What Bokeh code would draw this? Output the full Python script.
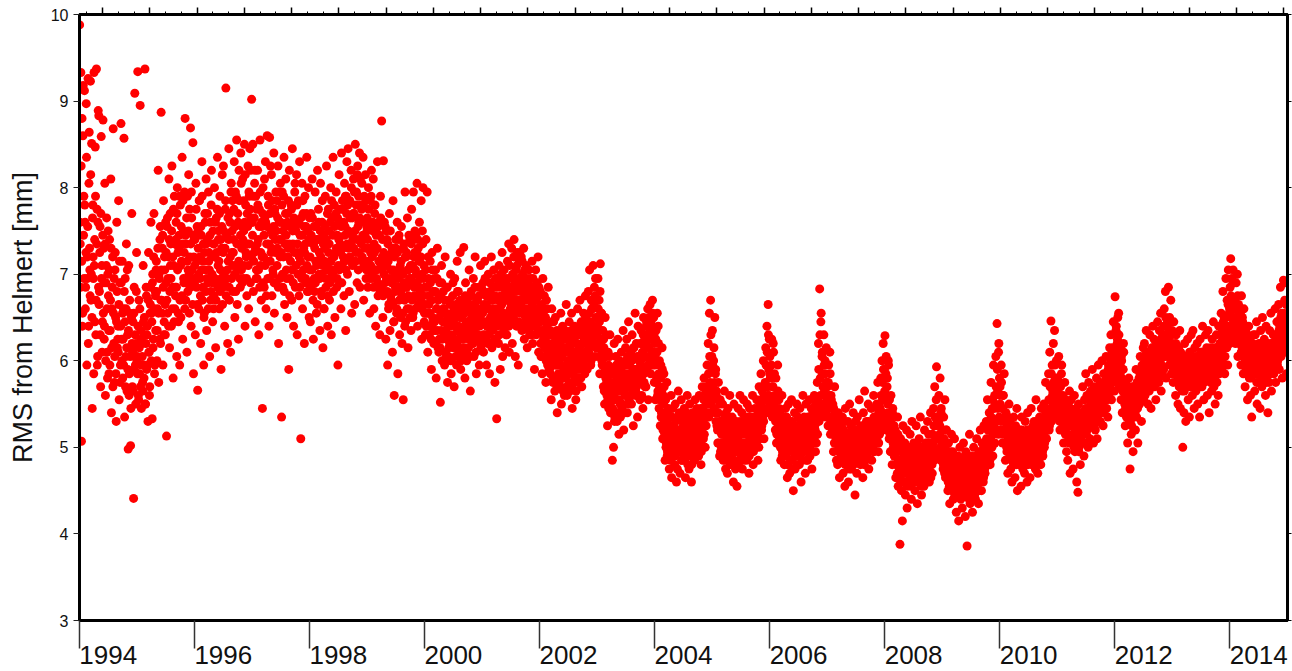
from bokeh.plotting import figure
from bokeh.models import (Range1d, LinearAxis, FixedTicker, CustomJSTickFormatter,
                          ColumnDataSource)
from bokeh.embed import file_html
from bokeh.resources import INLINE

# ---------------- data (RMS from Helmert [mm]) -------------
# two interleaved sample sets per year, 8 values per month each
years = list(range(1994, 2015))

rms_1994 = [9.88, 7.35, 9.33, 5.07, 8.80, 6.55, 9.18, 7.90, 9.12, 7.60, 6.85, 8.97, 5.95, 7.20, 9.26, 6.40,
            8.64, 7.05, 9.23, 6.70, 8.51, 5.45, 7.80, 6.95, 9.33, 7.40, 8.47, 6.30, 9.37, 7.75, 6.05, 8.89,
            8.83, 6.80, 7.55, 5.70, 8.59, 7.10, 6.45, 8.78, 7.30, 6.25, 8.05, 5.60, 6.90, 7.65, 6.10, 7.00,
            6.75, 5.85, 7.40, 6.35, 8.10, 5.40, 6.60, 7.20, 8.68, 6.20, 5.75, 7.05, 6.50, 5.30, 7.60, 6.15,
            6.40, 7.85, 5.55, 6.90, 5.95, 8.74, 6.25, 7.15, 5.80, 6.60, 8.57, 5.35, 6.95, 6.05, 7.35, 5.65,
            6.30, 4.98, 7.10, 5.85, 6.55, 5.02, 6.15, 7.70, 5.70, 6.45, 4.41, 6.85, 9.09, 5.95, 6.20, 7.25]
rms_1994b = [7.60, 6.85, 8.25, 7.15, 6.40, 8.60, 7.45, 6.95, 7.80, 6.60, 7.25, 8.35, 6.95, 7.55, 6.20, 8.05,
             7.30, 6.75, 8.15, 7.00, 6.50, 7.65, 7.20, 5.85, 7.10, 6.45, 7.90, 6.70, 7.35, 5.95, 7.60, 6.85,
             6.65, 7.25, 6.30, 7.70, 6.95, 6.10, 7.45, 6.55, 6.90, 6.40, 7.35, 6.00, 7.10, 6.60, 5.80, 7.50,
             6.35, 7.05, 5.95, 6.70, 7.30, 6.15, 6.85, 5.70, 6.55, 6.95, 6.05, 7.25, 5.85, 6.45, 6.80, 6.25,
             6.10, 6.65, 7.15, 5.75, 6.40, 6.90, 6.00, 6.55, 6.25, 5.95, 6.80, 6.45, 5.70, 6.60, 6.15, 7.05,
             5.90, 6.35, 5.60, 6.70, 6.05, 5.45, 6.50, 6.20, 6.10, 5.65, 6.55, 5.90, 6.30, 5.50, 6.80, 6.00]
rms_1995 = [6.05, 9.34, 5.60, 6.70, 5.85, 8.95, 6.35, 5.45, 6.20, 5.75, 7.10, 5.95, 6.50, 9.37, 5.50, 6.85,
            5.90, 6.40, 5.30, 7.25, 6.10, 5.70, 6.65, 7.60, 6.55, 5.33, 7.00, 6.25, 7.70, 5.85, 6.80, 6.35,
            7.15, 6.00, 6.60, 8.20, 5.75, 6.95, 7.40, 6.20, 8.87, 6.70, 7.30, 5.95, 7.85, 6.45, 7.05, 6.30,
            6.90, 5.13, 7.55, 6.55, 7.20, 8.10, 6.15, 7.70, 7.35, 6.40, 8.25, 6.85, 5.80, 7.10, 7.90, 6.60,
            6.75, 7.60, 6.05, 8.00, 7.25, 6.45, 7.45, 5.95, 7.80, 6.50, 7.15, 8.35, 6.25, 7.50, 6.90, 7.95,
            8.80, 6.70, 7.35, 6.10, 7.90, 7.05, 8.15, 6.55, 7.20, 8.69, 6.40, 7.65, 6.95, 8.52, 5.85, 7.40]
rms_1995b = [5.85, 6.40, 5.55, 6.15, 6.60, 5.70, 6.25, 5.95, 6.05, 5.65, 6.45, 5.80, 6.30, 5.50, 6.20, 6.75,
             6.30, 5.95, 6.70, 6.10, 5.60, 6.55, 6.85, 6.00, 6.45, 6.90, 6.15, 7.20, 6.60, 5.95, 6.75, 7.05,
             6.80, 6.35, 7.30, 6.55, 7.00, 6.25, 7.55, 6.70, 7.05, 6.55, 7.45, 6.85, 6.30, 7.20, 6.65, 7.60,
             7.25, 6.70, 7.65, 6.95, 6.40, 7.40, 6.80, 7.10, 6.95, 7.50, 6.60, 7.20, 7.75, 6.45, 7.35, 6.85,
             7.40, 6.85, 7.70, 7.05, 6.55, 7.30, 7.90, 6.70, 7.10, 7.55, 6.75, 7.35, 7.85, 6.95, 7.25, 6.60,
             7.45, 6.90, 7.65, 7.15, 6.80, 7.50, 7.00, 7.75, 6.85, 7.35, 7.95, 7.05, 6.65, 7.45, 7.20, 6.90]
rms_1996 = [7.10, 6.30, 8.05, 6.85, 7.55, 5.66, 7.30, 6.60, 7.85, 6.95, 6.20, 7.45, 8.30, 6.70, 7.15, 5.95,
            6.55, 7.70, 7.05, 8.10, 6.35, 7.40, 6.90, 7.95, 7.25, 6.05, 7.60, 6.80, 8.20, 7.00, 6.45, 7.35,
            6.75, 8.00, 7.20, 6.15, 7.65, 6.90, 8.35, 7.10, 7.50, 6.60, 7.90, 7.05, 5.90, 7.30, 8.15, 6.85,
            8.25, 7.00, 6.40, 7.75, 9.15, 6.95, 7.45, 6.20, 7.15, 8.45, 6.70, 7.60, 6.10, 8.05, 7.25, 7.85,
            6.80, 7.40, 8.30, 6.50, 7.95, 7.10, 8.55, 6.65, 7.70, 6.25, 8.20, 7.35, 6.85, 8.40, 7.05, 7.55,
            8.10, 6.95, 7.50, 8.50, 6.40, 7.80, 7.20, 6.75, 7.35, 8.25, 6.60, 7.90, 8.45, 6.90, 7.65, 9.02]
rms_1996b = [7.40, 6.95, 7.75, 7.15, 6.65, 7.50, 7.00, 7.85, 7.20, 6.75, 7.55, 7.05, 7.90, 6.85, 7.35, 6.50,
             7.25, 7.60, 6.80, 7.35, 6.95, 7.70, 6.60, 7.15, 7.05, 7.45, 6.70, 7.80, 7.20, 6.90, 7.50, 6.60,
             7.35, 6.95, 7.60, 6.70, 7.25, 7.75, 6.85, 7.40, 7.15, 7.70, 6.80, 7.40, 6.95, 7.55, 6.65, 7.25,
             7.50, 6.90, 7.30, 7.85, 6.75, 7.45, 7.05, 7.65, 7.40, 6.85, 7.70, 7.20, 7.95, 6.95, 7.50, 7.10,
             7.25, 7.75, 7.00, 7.55, 6.80, 7.90, 7.35, 7.05, 7.60, 7.15, 7.85, 6.95, 7.45, 8.05, 7.30, 6.90,
             7.40, 7.85, 7.10, 7.60, 8.15, 7.25, 6.95, 7.70, 7.55, 7.10, 7.95, 7.35, 7.75, 8.20, 7.20, 7.60]
rms_1997 = [7.60, 8.50, 6.80, 7.25, 8.05, 6.45, 7.90, 7.05, 6.95, 8.20, 7.40, 6.30, 7.75, 8.55, 7.10, 6.70,
            7.55, 5.45, 8.00, 7.20, 6.85, 7.65, 8.30, 6.60, 7.35, 8.60, 6.95, 7.80, 6.40, 8.58, 7.15, 7.50,
            8.15, 6.75, 7.45, 7.00, 8.40, 6.55, 7.70, 7.25, 6.90, 7.85, 7.30, 8.25, 6.20, 7.60, 6.95, 8.05,
            7.40, 5.35, 7.95, 6.85, 7.20, 8.35, 6.65, 7.55, 8.10, 7.05, 6.50, 7.70, 7.30, 5.90, 8.20, 6.95,
            7.15, 7.80, 6.70, 8.45, 7.35, 6.40, 7.60, 7.95, 6.85, 7.50, 8.15, 6.30, 7.25, 7.85, 6.75, 8.30,
            7.45, 5.10, 7.00, 8.05, 6.60, 7.70, 7.30, 6.20, 7.90, 6.95, 7.55, 8.35, 6.80, 7.20, 8.00, 6.50]
rms_1997b = [7.45, 7.90, 7.15, 7.65, 8.20, 7.30, 6.95, 7.75, 7.35, 7.80, 7.05, 7.55, 6.85, 7.95, 7.25, 7.60,
             7.20, 7.70, 6.90, 7.45, 8.10, 7.10, 7.60, 6.75, 7.55, 7.15, 7.90, 7.35, 6.95, 7.70, 8.25, 7.25,
             7.30, 7.85, 7.05, 7.55, 6.90, 7.75, 7.40, 7.95, 7.50, 7.10, 7.65, 6.85, 7.40, 7.95, 7.20, 7.60,
             7.25, 7.80, 7.00, 7.50, 7.90, 6.80, 7.35, 7.70, 7.45, 6.95, 7.60, 7.20, 7.85, 7.35, 6.75, 7.55,
             7.30, 7.75, 7.05, 7.50, 6.90, 7.65, 7.25, 8.05, 7.55, 7.10, 7.80, 7.35, 7.00, 7.60, 7.20, 6.85,
             7.15, 7.65, 6.95, 7.45, 7.85, 7.05, 7.55, 7.25, 7.35, 6.90, 7.70, 7.10, 7.50, 6.80, 7.40, 7.65]
rms_1998 = [7.05, 6.45, 7.70, 6.90, 8.10, 7.35, 6.25, 7.55, 6.80, 7.95, 7.15, 6.55, 7.40, 8.20, 6.95, 7.60,
            7.25, 6.35, 8.05, 7.00, 6.75, 7.85, 6.15, 7.45, 6.60, 7.30, 7.90, 6.85, 8.25, 7.10, 6.40, 7.75,
            7.50, 6.70, 7.15, 8.00, 6.30, 7.65, 7.05, 8.35, 6.95, 7.80, 6.50, 7.25, 7.95, 6.85, 7.45, 5.95,
            7.60, 8.15, 6.90, 7.35, 6.60, 8.40, 7.10, 7.75, 7.20, 6.75, 8.05, 7.55, 6.35, 7.90, 8.30, 7.00,
            8.45, 7.30, 6.80, 7.85, 7.15, 8.20, 6.55, 7.65, 7.40, 8.10, 7.70, 6.65, 8.50, 7.25, 7.95, 6.90,
            8.25, 7.05, 7.60, 8.40, 6.85, 7.80, 7.35, 8.05, 7.15, 8.35, 6.70, 7.90, 7.45, 8.15, 6.95, 7.55]
rms_1998b = [7.20, 6.85, 7.45, 7.05, 7.65, 6.70, 7.35, 6.95, 7.30, 6.90, 7.55, 7.10, 6.65, 7.40, 7.75, 7.00,
             6.95, 7.50, 7.20, 6.80, 7.60, 7.10, 7.35, 6.60, 7.15, 7.55, 6.95, 7.40, 7.05, 7.70, 6.75, 7.25,
             7.35, 6.90, 7.60, 7.15, 7.85, 7.00, 7.45, 6.80, 7.20, 7.55, 7.05, 7.70, 7.30, 6.95, 7.65, 7.10,
             7.40, 7.05, 7.75, 7.25, 7.55, 6.90, 7.85, 7.30, 7.60, 7.15, 7.45, 7.90, 7.05, 7.70, 7.35, 7.80,
             7.50, 7.85, 7.20, 7.65, 7.35, 8.00, 7.45, 7.10, 7.70, 7.30, 7.95, 7.50, 7.15, 7.80, 7.40, 8.15,
             7.55, 7.90, 7.25, 7.65, 8.10, 7.40, 7.75, 7.20, 7.45, 7.80, 7.10, 7.60, 7.30, 7.85, 7.05, 7.50]
rms_1999 = [7.65, 6.85, 8.00, 7.30, 6.55, 7.85, 7.10, 8.20, 6.95, 7.50, 8.10, 6.60, 7.25, 7.80, 6.40, 7.45,
            7.05, 8.30, 6.75, 7.60, 7.15, 6.30, 7.90, 6.85, 8.77, 7.20, 6.50, 8.31, 7.00, 6.80, 7.55, 6.25,
            6.95, 7.40, 5.95, 7.15, 6.65, 7.70, 6.35, 7.05, 6.70, 7.25, 6.10, 7.85, 6.45, 5.60, 7.00, 6.85,
            7.30, 6.55, 7.60, 5.85, 6.95, 7.45, 6.30, 7.10, 6.80, 7.55, 6.20, 7.00, 5.55, 7.35, 6.70, 7.95,
            6.45, 7.20, 6.85, 7.65, 6.15, 7.05, 6.60, 7.40, 7.10, 6.35, 7.75, 6.90, 6.50, 7.95, 6.75, 7.25,
            6.60, 7.45, 7.00, 8.05, 6.40, 7.30, 6.85, 7.60, 7.15, 6.70, 7.85, 6.25, 7.50, 8.00, 6.95, 6.45]
rms_1999b = [7.40, 7.15, 7.75, 6.95, 7.55, 7.25, 7.90, 7.00, 7.20, 7.60, 6.85, 7.35, 7.70, 7.05, 7.50, 6.95,
             7.30, 6.90, 7.55, 7.15, 7.45, 6.80, 7.65, 7.10, 7.05, 7.40, 6.75, 7.25, 7.60, 6.90, 7.15, 7.50,
             7.10, 6.80, 7.35, 6.60, 7.20, 6.95, 7.50, 6.75, 6.90, 7.30, 6.65, 7.05, 6.45, 7.20, 6.80, 7.40,
             6.95, 6.60, 7.25, 6.85, 7.40, 6.70, 7.05, 6.50, 7.15, 6.75, 7.00, 6.55, 7.30, 6.90, 6.40, 7.20,
             6.85, 7.25, 6.60, 7.05, 6.75, 7.45, 6.95, 6.50, 6.95, 7.35, 6.70, 7.10, 6.55, 7.20, 6.85, 7.50,
             7.05, 6.75, 7.25, 6.90, 7.40, 6.65, 7.15, 6.95, 6.80, 7.20, 6.60, 7.00, 7.35, 6.75, 7.10, 6.55]
rms_2000 = [6.85, 6.30, 7.40, 6.55, 7.95, 6.10, 6.95, 6.65, 6.40, 7.15, 6.70, 5.90, 7.25, 6.50, 6.80, 6.20,
            6.95, 6.35, 7.05, 5.80, 6.60, 7.30, 6.15, 6.75, 6.25, 6.90, 5.52, 6.55, 7.10, 6.00, 6.45, 6.80,
            6.60, 5.95, 7.20, 6.35, 6.05, 6.85, 5.75, 6.50, 6.15, 6.70, 6.40, 7.00, 5.85, 6.55, 6.25, 6.90,
            6.45, 5.70, 6.95, 6.20, 6.65, 5.95, 7.15, 6.35, 6.80, 6.10, 6.50, 7.25, 5.90, 6.60, 6.30, 6.05,
            6.25, 7.31, 6.55, 5.80, 6.90, 6.40, 6.00, 6.70, 6.60, 6.15, 7.05, 6.35, 5.65, 6.75, 6.50, 6.20,
            6.40, 6.95, 6.05, 6.65, 7.20, 6.25, 5.85, 6.55, 6.70, 6.30, 6.85, 5.95, 6.50, 7.10, 6.20, 6.60]
rms_2000b = [6.65, 7.05, 6.40, 6.85, 6.55, 7.20, 6.75, 6.30, 6.55, 6.90, 6.25, 6.70, 7.05, 6.45, 6.80, 6.35,
             6.45, 6.80, 6.20, 6.60, 6.95, 6.35, 6.70, 6.10, 6.50, 6.15, 6.75, 6.35, 6.90, 6.25, 6.60, 6.00,
             6.30, 6.70, 6.10, 6.55, 6.25, 6.85, 6.40, 6.05, 6.45, 6.20, 6.65, 6.00, 6.50, 6.30, 6.75, 6.15,
             6.25, 6.60, 6.40, 6.05, 6.55, 6.20, 6.80, 6.35, 6.40, 6.15, 6.70, 6.30, 6.00, 6.50, 6.25, 6.65,
             6.35, 6.55, 6.15, 6.75, 6.45, 6.10, 6.60, 6.30, 6.45, 6.25, 6.65, 6.05, 6.40, 6.80, 6.30, 6.55,
             6.20, 6.60, 6.35, 6.85, 6.45, 6.10, 6.70, 6.40, 6.50, 6.25, 6.75, 6.40, 6.60, 6.15, 6.85, 6.45]
rms_2001 = [6.45, 6.90, 6.10, 6.65, 7.15, 6.30, 6.75, 5.95, 6.60, 6.20, 7.00, 6.45, 5.85, 6.80, 6.35, 7.20,
            6.15, 6.70, 6.40, 7.05, 6.55, 5.75, 6.95, 6.25, 5.33, 6.60, 6.85, 6.20, 7.10, 6.45, 5.90, 6.75,
            6.50, 7.25, 6.05, 6.70, 6.35, 6.95, 6.15, 6.80, 6.90, 6.30, 7.15, 6.55, 7.35, 6.10, 6.75, 6.45,
            6.65, 7.30, 6.20, 6.95, 6.50, 7.40, 6.85, 6.05, 7.05, 6.40, 7.25, 6.70, 5.95, 6.90, 7.15, 6.55,
            6.80, 7.20, 6.35, 7.00, 6.60, 7.30, 6.25, 6.95, 6.50, 7.10, 6.75, 6.15, 6.90, 6.45, 7.05, 6.30,
            6.95, 6.40, 6.70, 7.15, 6.20, 6.85, 6.55, 5.90, 6.60, 7.05, 6.30, 6.80, 6.45, 7.20, 6.10, 6.75]
rms_2001b = [6.55, 6.30, 6.80, 6.45, 6.95, 6.25, 6.65, 6.40, 6.45, 6.75, 6.30, 6.60, 6.90, 6.50, 6.20, 6.70,
             6.55, 6.35, 6.85, 6.60, 6.25, 6.75, 6.45, 6.95, 6.40, 6.70, 6.50, 6.90, 6.30, 6.60, 7.00, 6.45,
             6.65, 6.40, 6.85, 6.55, 7.05, 6.45, 6.75, 6.30, 6.70, 6.95, 6.50, 6.80, 6.40, 7.10, 6.60, 6.85,
             6.75, 6.50, 7.00, 6.65, 7.20, 6.55, 6.90, 6.70, 6.80, 7.10, 6.60, 6.95, 6.45, 6.85, 7.25, 6.70,
             6.65, 6.90, 7.15, 6.55, 6.85, 6.40, 7.05, 6.75, 6.70, 6.45, 6.95, 6.60, 6.85, 6.35, 6.80, 6.55,
             6.60, 6.80, 6.30, 6.65, 6.95, 6.50, 6.75, 6.40, 6.45, 6.70, 6.55, 6.90, 6.35, 6.60, 6.85, 6.50]
rms_2002 = [6.35, 6.80, 6.05, 6.55, 5.85, 6.95, 6.25, 6.60, 6.15, 6.45, 5.75, 6.70, 6.30, 5.95, 6.85, 6.20,
            5.90, 6.35, 6.05, 5.55, 6.60, 6.10, 5.80, 6.45, 6.20, 5.65, 6.50, 5.95, 6.15, 5.40, 6.30, 5.85,
            5.75, 6.25, 5.95, 6.55, 5.50, 6.05, 6.40, 5.80, 6.10, 5.60, 6.35, 5.90, 6.65, 5.70, 6.00, 6.30,
            5.85, 6.45, 5.65, 6.15, 5.95, 6.55, 5.45, 6.25, 6.05, 5.75, 6.40, 6.00, 5.55, 6.30, 5.90, 6.60,
            6.35, 5.80, 6.15, 6.70, 5.95, 6.45, 5.70, 6.20, 6.00, 6.55, 6.25, 5.85, 6.75, 6.10, 6.40, 5.90,
            6.45, 6.80, 6.15, 7.05, 6.35, 5.95, 6.70, 6.25, 6.60, 7.10, 6.30, 6.85, 6.05, 6.95, 6.50, 6.20]
rms_2002b = [6.45, 6.20, 6.65, 6.35, 6.05, 6.55, 6.30, 6.75, 6.25, 6.50, 6.00, 6.40, 6.60, 6.10, 6.35, 5.90,
             6.15, 5.85, 6.30, 6.00, 6.45, 5.75, 6.20, 5.95, 6.05, 5.80, 6.25, 5.95, 6.35, 5.70, 6.10, 6.00,
             5.95, 6.20, 5.70, 6.05, 5.85, 6.30, 5.65, 6.15, 5.90, 6.15, 5.80, 6.25, 5.95, 5.60, 6.10, 5.85,
             6.00, 5.75, 6.20, 5.90, 6.35, 5.70, 6.05, 5.85, 5.95, 6.25, 5.80, 6.10, 5.65, 6.20, 6.00, 5.75,
             6.10, 5.90, 6.30, 6.05, 5.80, 6.40, 5.95, 6.20, 6.20, 5.95, 6.35, 6.10, 6.50, 5.90, 6.25, 6.05,
             6.30, 6.10, 6.55, 6.20, 6.45, 6.00, 6.60, 6.35, 6.40, 6.20, 6.65, 6.35, 6.75, 6.15, 6.50, 6.30]
rms_2003 = [6.40, 6.95, 6.05, 6.70, 5.85, 7.12, 6.25, 6.55, 5.95, 6.35, 5.70, 6.15, 5.50, 6.50, 5.80, 6.05,
            5.60, 5.25, 6.10, 5.45, 5.85, 6.30, 5.40, 5.75, 5.55, 4.85, 5.90, 5.00, 6.20, 5.35, 5.70, 6.05,
            5.80, 5.30, 6.25, 5.65, 5.15, 6.00, 5.50, 5.90, 6.10, 5.45, 5.75, 6.35, 5.20, 5.95, 5.60, 6.15,
            5.70, 6.25, 5.40, 5.95, 6.45, 5.55, 6.05, 5.85, 6.00, 5.50, 6.30, 5.75, 5.25, 6.15, 5.90, 6.55,
            5.65, 6.20, 5.85, 5.35, 6.40, 5.80, 6.05, 5.55, 5.95, 6.35, 5.60, 6.10, 5.45, 6.50, 5.75, 6.25,
            6.15, 5.70, 6.45, 5.90, 6.60, 5.55, 6.30, 6.00, 6.65, 5.85, 6.40, 6.10, 6.70, 5.95, 6.50, 5.75]
rms_2003b = [6.35, 6.60, 6.15, 6.45, 6.80, 6.20, 6.55, 6.00, 6.10, 5.85, 6.25, 5.65, 6.05, 5.90, 6.30, 5.75,
             5.80, 5.55, 5.95, 5.70, 6.05, 5.50, 5.85, 5.65, 5.70, 5.45, 5.85, 5.60, 5.30, 5.75, 5.55, 5.95,
             5.65, 5.90, 5.40, 5.75, 5.55, 5.85, 5.35, 5.70, 5.75, 5.50, 5.95, 5.65, 5.85, 5.40, 5.80, 6.00,
             5.85, 5.60, 6.05, 5.75, 5.50, 5.95, 5.70, 6.10, 5.80, 6.00, 5.65, 5.90, 6.15, 5.70, 5.85, 5.60,
             5.90, 5.70, 6.05, 5.80, 5.60, 6.00, 5.75, 6.20, 6.00, 5.80, 6.20, 5.90, 6.30, 5.85, 6.05, 5.70,
             6.20, 6.40, 6.05, 6.30, 5.95, 6.50, 6.15, 6.35, 6.25, 6.45, 6.00, 6.35, 6.55, 6.10, 6.30, 6.20]
rms_2004 = [6.05, 5.55, 6.35, 5.80, 6.55, 5.65, 6.20, 5.45, 5.70, 5.25, 5.95, 5.40, 6.15, 5.10, 5.60, 5.85,
            5.30, 4.85, 5.55, 5.05, 5.75, 4.95, 5.40, 5.20, 4.75, 5.35, 5.00, 5.60, 4.65, 5.15, 5.45, 4.90,
            5.25, 4.80, 5.50, 5.10, 4.60, 5.35, 4.95, 5.65, 5.05, 5.40, 4.70, 5.20, 5.55, 4.85, 5.30, 5.00,
            4.90, 5.45, 5.15, 4.65, 5.35, 5.05, 5.60, 4.80, 5.20, 4.75, 5.50, 5.00, 5.30, 4.60, 5.10, 5.40,
            5.00, 5.35, 4.85, 5.55, 5.15, 4.95, 5.45, 5.10, 5.25, 4.90, 5.60, 5.05, 5.40, 4.80, 5.30, 5.70,
            5.45, 5.10, 5.80, 5.25, 5.00, 5.65, 5.35, 5.95, 5.60, 6.20, 5.35, 6.55, 5.75, 6.70, 5.50, 6.05]
rms_2004b = [5.95, 6.25, 5.75, 6.10, 5.60, 6.40, 5.85, 6.00, 5.55, 5.80, 5.35, 5.65, 5.90, 5.20, 5.50, 5.70,
             5.15, 5.40, 5.00, 5.30, 4.90, 5.25, 5.45, 5.10, 5.05, 5.25, 4.85, 5.15, 5.35, 4.95, 5.20, 5.05,
             5.10, 4.90, 5.30, 5.00, 5.20, 4.75, 5.15, 5.35, 4.95, 5.20, 5.05, 5.35, 4.85, 5.15, 5.00, 5.25,
             5.10, 4.85, 5.25, 5.00, 5.40, 4.95, 5.20, 5.05, 5.00, 5.25, 4.90, 5.15, 5.30, 4.80, 5.20, 5.05,
             5.15, 4.95, 5.30, 5.05, 5.25, 4.90, 5.35, 5.10, 5.10, 5.35, 5.00, 5.20, 5.45, 4.95, 5.25, 5.15,
             5.30, 5.55, 5.15, 5.40, 5.70, 5.25, 5.50, 5.35, 5.50, 5.85, 5.40, 6.05, 5.65, 6.30, 5.55, 5.90]
rms_2005 = [6.35, 5.70, 6.00, 5.45, 6.50, 5.85, 5.30, 5.65, 5.40, 5.05, 5.75, 5.20, 4.90, 5.55, 5.30, 5.00,
            5.15, 5.50, 4.85, 5.30, 5.65, 5.00, 4.75, 5.40, 5.25, 4.70, 5.45, 5.10, 4.95, 5.60, 5.20, 4.85,
            4.90, 5.35, 5.05, 4.60, 5.50, 5.15, 4.80, 5.25, 5.30, 4.55, 5.10, 5.45, 4.85, 5.00, 5.60, 4.95,
            5.05, 5.40, 4.75, 5.25, 5.55, 4.90, 5.15, 5.35, 5.20, 4.85, 5.50, 5.00, 5.30, 4.70, 5.45, 5.10,
            4.95, 5.35, 5.15, 5.60, 4.80, 5.25, 5.05, 5.45, 5.30, 5.00, 5.55, 5.15, 4.85, 5.40, 5.70, 5.10,
            5.50, 5.85, 5.20, 5.65, 5.35, 6.00, 5.10, 5.45, 5.75, 6.15, 5.40, 6.40, 5.60, 6.65, 5.90, 6.25]
rms_2005b = [5.95, 5.55, 6.15, 5.75, 5.40, 5.90, 5.60, 5.25, 5.20, 5.40, 5.05, 5.30, 5.50, 4.95, 5.25, 5.15,
             5.05, 5.25, 4.95, 5.15, 5.35, 4.85, 5.20, 5.00, 5.10, 4.90, 5.30, 5.00, 5.20, 4.80, 5.05, 5.25,
             5.00, 5.15, 4.85, 5.25, 4.95, 5.10, 4.75, 5.20, 4.95, 5.20, 5.05, 4.80, 5.15, 5.00, 5.30, 4.90,
             5.15, 4.95, 5.25, 5.05, 4.85, 5.20, 5.00, 5.30, 5.05, 5.25, 4.95, 5.15, 5.35, 4.90, 5.10, 5.20,
             5.10, 5.30, 5.00, 5.20, 4.95, 5.35, 5.15, 5.05, 5.20, 5.05, 5.35, 5.15, 5.45, 5.00, 5.25, 5.40,
             5.35, 5.55, 5.25, 5.45, 5.70, 5.30, 5.60, 5.40, 5.55, 5.95, 5.45, 6.10, 5.70, 6.30, 5.60, 5.85]
rms_2006 = [6.05, 5.50, 5.85, 6.25, 5.35, 5.70, 6.10, 5.45, 5.60, 5.20, 5.80, 5.05, 5.45, 5.95, 5.25, 5.55,
            5.10, 5.40, 4.85, 5.25, 5.60, 4.95, 5.30, 5.05, 4.80, 5.20, 5.45, 4.95, 5.35, 4.65, 5.10, 5.50,
            5.15, 4.70, 5.30, 5.00, 5.55, 4.85, 5.25, 4.50, 5.00, 5.40, 4.75, 5.20, 4.90, 5.50, 5.05, 5.35,
            5.25, 4.80, 5.45, 5.10, 4.60, 5.30, 5.00, 5.60, 4.95, 5.35, 5.15, 4.70, 5.50, 5.05, 5.25, 4.85,
            5.20, 5.00, 5.55, 4.90, 5.30, 5.45, 4.75, 5.15, 5.35, 5.05, 5.60, 5.25, 4.95, 5.50, 5.15, 5.75,
            5.55, 6.20, 5.30, 6.83, 5.80, 6.45, 5.40, 6.05, 5.85, 5.50, 6.30, 5.65, 6.00, 5.35, 6.15, 5.75]
rms_2006b = [5.80, 5.55, 5.95, 5.40, 5.70, 6.20, 5.50, 5.85, 5.40, 5.30, 5.55, 5.15, 5.35, 5.65, 5.20, 5.45,
             5.20, 5.00, 5.30, 5.10, 4.90, 5.25, 5.05, 5.35, 5.05, 5.15, 4.90, 5.25, 5.00, 4.80, 5.20, 5.10,
             5.00, 5.20, 4.85, 5.10, 4.95, 5.30, 4.75, 5.05, 5.10, 4.90, 5.25, 5.00, 4.80, 5.15, 5.05, 4.95,
             5.05, 5.20, 4.90, 5.10, 5.30, 4.85, 5.15, 5.00, 5.15, 4.95, 5.25, 5.05, 4.85, 5.20, 5.00, 5.35,
             5.10, 5.30, 5.00, 5.20, 4.95, 5.25, 5.05, 5.40, 5.25, 5.10, 5.40, 5.20, 5.50, 5.05, 5.35, 5.15,
             5.45, 5.90, 5.35, 6.30, 5.60, 6.55, 5.50, 6.10, 5.70, 5.45, 5.95, 5.60, 5.85, 5.40, 5.75, 5.55]
rms_2007 = [5.70, 5.25, 5.95, 5.45, 6.10, 5.15, 5.60, 5.35, 5.20, 5.50, 4.95, 5.35, 5.70, 5.05, 5.25, 4.85,
            5.10, 4.80, 5.40, 5.00, 4.65, 5.30, 5.15, 4.90, 4.95, 5.35, 4.70, 5.20, 5.00, 4.55, 5.45, 5.05,
            5.15, 4.85, 5.30, 4.60, 5.05, 5.50, 4.90, 5.25, 4.75, 5.20, 5.00, 5.40, 4.85, 5.10, 4.45, 5.30,
            5.05, 4.70, 5.35, 5.15, 4.90, 5.55, 5.00, 4.80, 5.25, 4.95, 5.10, 4.65, 5.40, 5.05, 5.65, 4.85,
            4.90, 5.30, 5.15, 5.00, 5.50, 4.75, 5.20, 5.05, 5.10, 5.45, 4.85, 5.30, 5.00, 5.60, 4.95, 5.25,
            5.35, 5.05, 5.50, 5.20, 5.75, 4.95, 5.40, 5.15, 5.45, 5.80, 5.25, 6.00, 5.55, 6.20, 5.30, 5.90]
rms_2007b = [5.50, 5.75, 5.35, 5.60, 5.85, 5.30, 5.55, 5.45, 5.30, 5.15, 5.45, 5.05, 5.25, 5.40, 5.10, 5.35,
             5.05, 5.20, 4.95, 5.15, 4.85, 5.10, 5.00, 5.25, 5.00, 4.85, 5.15, 4.95, 5.10, 4.80, 5.05, 4.90,
             4.95, 5.10, 4.85, 5.05, 4.75, 5.00, 5.15, 4.90, 5.00, 4.90, 5.10, 4.80, 5.05, 4.95, 5.20, 4.85,
             4.95, 5.10, 4.85, 5.05, 5.20, 4.90, 5.00, 5.15, 5.05, 4.90, 5.20, 4.95, 5.10, 4.80, 5.00, 5.25,
             5.00, 5.15, 4.90, 5.10, 5.30, 4.95, 5.05, 5.20, 5.15, 5.00, 5.25, 5.10, 4.95, 5.35, 5.05, 5.20,
             5.20, 5.35, 5.10, 5.45, 5.25, 5.05, 5.50, 5.30, 5.35, 5.60, 5.20, 5.75, 5.40, 5.90, 5.30, 5.65]
rms_2008 = [6.29, 5.55, 6.05, 5.20, 5.80, 5.40, 5.95, 5.10, 5.35, 4.95, 5.60, 5.15, 4.80, 5.45, 5.00, 5.25,
            4.90, 5.20, 4.65, 5.05, 4.80, 5.35, 4.55, 5.00, 4.75, 3.88, 5.10, 4.60, 4.95, 4.15, 5.25, 4.85,
            4.70, 5.05, 4.45, 4.90, 5.20, 4.30, 4.80, 5.00, 4.95, 4.60, 5.15, 4.75, 4.40, 5.30, 4.85, 4.65,
            5.05, 4.70, 4.50, 4.95, 5.25, 4.80, 4.35, 4.90, 4.85, 5.10, 4.60, 5.35, 4.75, 4.45, 5.00, 4.70,
            4.95, 4.55, 5.20, 4.80, 5.05, 4.65, 4.90, 5.30, 4.75, 5.15, 4.60, 4.95, 5.40, 4.80, 5.05, 4.70,
            5.00, 5.45, 4.85, 5.70, 4.95, 5.25, 5.93, 5.10, 5.35, 4.90, 5.60, 5.15, 5.80, 4.85, 5.45, 5.05]
rms_2008b = [5.60, 5.85, 5.35, 5.70, 5.50, 6.00, 5.25, 5.55, 5.15, 5.30, 4.95, 5.20, 5.40, 5.05, 5.25, 4.90,
             4.95, 5.10, 4.80, 5.00, 4.70, 5.15, 4.85, 5.05, 4.85, 4.65, 4.95, 4.50, 4.80, 5.00, 4.60, 4.90,
             4.80, 4.60, 4.95, 4.70, 4.85, 4.55, 5.00, 4.75, 4.85, 4.65, 4.90, 4.55, 4.80, 5.00, 4.70, 4.95,
             4.80, 4.95, 4.65, 4.85, 4.60, 5.05, 4.75, 4.90, 4.90, 4.70, 5.00, 4.80, 4.55, 4.95, 4.85, 4.65,
             4.85, 5.00, 4.70, 4.95, 4.60, 4.90, 5.05, 4.75, 4.90, 4.70, 5.05, 4.85, 4.65, 5.00, 4.80, 5.15,
             5.05, 5.25, 4.90, 5.35, 5.10, 5.55, 4.95, 5.30, 5.10, 5.30, 4.95, 5.25, 5.00, 5.40, 4.85, 5.20]
rms_2009 = [5.10, 4.75, 5.35, 4.90, 5.55, 4.65, 5.20, 4.85, 4.80, 4.50, 5.05, 4.65, 4.35, 4.95, 4.70, 5.15,
            4.60, 4.95, 4.40, 4.75, 5.10, 4.55, 4.85, 4.25, 4.70, 4.45, 4.90, 4.15, 4.80, 5.00, 4.55, 4.65,
            4.85, 4.30, 4.60, 5.05, 4.50, 4.75, 4.20, 4.95, 4.55, 3.86, 4.80, 4.45, 4.65, 5.15, 4.35, 4.70,
            4.90, 4.60, 4.25, 4.75, 5.00, 4.50, 4.85, 4.40, 4.65, 5.10, 4.55, 4.80, 4.35, 4.95, 4.70, 5.20,
            4.75, 4.50, 5.05, 4.85, 4.60, 5.25, 4.90, 4.70, 5.00, 5.30, 4.80, 5.55, 5.10, 4.95, 5.40, 4.85,
            5.20, 5.75, 5.05, 5.45, 4.90, 5.95, 5.25, 5.60, 5.50, 6.05, 5.30, 6.43, 5.65, 5.15, 6.20, 5.80]
rms_2009b = [4.95, 4.80, 5.10, 4.70, 5.00, 4.85, 5.20, 4.75, 4.75, 4.60, 4.85, 4.55, 4.90, 4.70, 4.80, 4.50,
             4.70, 4.55, 4.85, 4.65, 4.45, 4.80, 4.60, 4.75, 4.65, 4.80, 4.50, 4.70, 4.60, 4.85, 4.40, 4.75,
             4.70, 4.55, 4.80, 4.45, 4.65, 4.90, 4.60, 4.50, 4.60, 4.75, 4.50, 4.70, 4.40, 4.65, 4.85, 4.55,
             4.70, 4.55, 4.80, 4.60, 4.75, 4.45, 4.65, 4.90, 4.75, 4.60, 4.85, 4.70, 4.50, 4.80, 4.65, 4.95,
             4.80, 4.95, 4.70, 4.90, 4.65, 5.00, 4.75, 4.85, 4.95, 5.10, 4.85, 5.20, 4.90, 5.25, 5.05, 4.80,
             5.10, 5.35, 5.00, 5.55, 5.15, 5.30, 5.45, 5.05, 5.30, 5.70, 5.20, 5.90, 5.45, 6.10, 5.35, 5.60]
rms_2010 = [5.70, 5.20, 5.95, 5.45, 5.05, 5.60, 5.30, 5.85, 5.15, 4.85, 5.40, 5.00, 5.25, 4.70, 5.10, 5.50,
            4.95, 5.30, 4.75, 5.10, 4.60, 5.20, 4.90, 5.35, 5.05, 4.65, 5.25, 4.85, 5.45, 4.50, 5.00, 5.15,
            4.80, 5.20, 4.95, 4.55, 5.35, 5.05, 4.75, 5.10, 5.00, 4.70, 5.30, 4.90, 5.15, 4.60, 5.40, 4.85,
            5.20, 4.95, 4.65, 5.10, 5.45, 4.80, 5.00, 5.25, 4.90, 5.30, 5.05, 4.75, 5.55, 4.95, 5.15, 4.70,
            5.10, 4.85, 5.35, 5.00, 4.80, 5.45, 5.20, 4.95, 5.25, 5.50, 5.00, 5.35, 5.75, 5.10, 5.45, 5.20,
            5.40, 5.85, 5.20, 6.10, 5.55, 6.46, 5.30, 5.95, 5.65, 6.20, 5.45, 6.35, 5.80, 5.35, 6.00, 5.55]
rms_2010b = [5.50, 5.30, 5.75, 5.15, 5.45, 5.60, 5.20, 5.35, 5.20, 5.05, 5.30, 4.95, 5.15, 5.35, 5.00, 5.10,
             5.05, 4.90, 5.15, 4.85, 5.00, 5.20, 4.80, 5.10, 5.00, 4.85, 5.10, 4.80, 4.95, 5.15, 4.90, 5.05,
             5.00, 4.85, 5.10, 4.90, 5.20, 4.80, 5.05, 4.95, 4.90, 5.10, 4.85, 5.05, 4.95, 5.20, 4.80, 5.00,
             5.05, 4.90, 5.15, 4.85, 5.10, 5.00, 4.80, 5.20, 5.00, 5.15, 4.90, 5.10, 4.85, 5.25, 5.05, 4.95,
             5.05, 5.20, 4.95, 5.15, 5.30, 5.00, 5.10, 4.90, 5.15, 5.30, 5.05, 5.25, 5.40, 5.10, 5.35, 5.20,
             5.30, 5.55, 5.25, 5.70, 5.40, 5.85, 5.35, 5.60, 5.50, 5.75, 5.40, 5.95, 5.55, 5.70, 5.45, 5.65]
rms_2011 = [5.80, 5.35, 6.05, 5.50, 5.20, 5.70, 5.45, 5.95, 5.30, 5.60, 5.05, 5.45, 5.75, 5.15, 5.40, 4.95,
            5.25, 4.85, 5.50, 5.10, 5.65, 4.70, 5.35, 5.55, 5.05, 5.40, 4.75, 5.30, 5.60, 4.95, 5.20, 5.45,
            4.60, 5.25, 4.48, 5.50, 5.00, 5.35, 4.80, 5.15, 5.40, 5.05, 5.70, 5.20, 4.90, 5.55, 5.30, 5.85,
            5.15, 5.60, 5.35, 5.00, 5.75, 5.45, 5.10, 5.65, 5.50, 5.25, 5.90, 5.40, 5.05, 5.70, 5.55, 5.20,
            5.35, 5.80, 5.10, 5.60, 5.95, 5.30, 5.50, 5.75, 5.65, 5.40, 6.00, 5.55, 5.25, 5.85, 5.70, 5.45,
            5.60, 6.05, 5.45, 5.80, 5.35, 5.95, 5.70, 6.15, 5.85, 6.30, 5.55, 6.10, 5.75, 6.45, 5.95, 5.65]
rms_2011b = [5.55, 5.40, 5.75, 5.30, 5.60, 5.45, 5.85, 5.35, 5.40, 5.25, 5.50, 5.20, 5.35, 5.55, 5.15, 5.30,
             5.30, 5.15, 5.40, 5.05, 5.25, 5.45, 5.10, 5.35, 5.25, 5.10, 5.35, 5.00, 5.20, 5.40, 5.15, 5.30,
             5.20, 5.05, 5.30, 4.95, 5.15, 5.35, 5.10, 5.25, 5.25, 5.40, 5.15, 5.35, 5.05, 5.30, 5.45, 5.20,
             5.35, 5.20, 5.45, 5.30, 5.55, 5.25, 5.40, 5.50, 5.40, 5.30, 5.55, 5.35, 5.60, 5.25, 5.45, 5.50,
             5.45, 5.60, 5.35, 5.55, 5.40, 5.65, 5.50, 5.30, 5.55, 5.45, 5.70, 5.50, 5.75, 5.40, 5.60, 5.65,
             5.65, 5.80, 5.55, 5.75, 5.90, 5.60, 5.85, 5.70, 5.75, 6.00, 5.65, 5.90, 6.15, 5.80, 6.05, 5.85]
rms_2012 = [6.74, 6.05, 6.40, 5.80, 6.25, 5.95, 6.55, 5.70, 5.85, 6.15, 5.55, 6.00, 5.40, 5.90, 6.20, 5.65,
            5.50, 5.25, 5.75, 5.35, 5.60, 5.05, 5.45, 5.80, 5.30, 4.75, 5.55, 5.15, 5.70, 5.40, 4.95, 5.60,
            5.45, 5.70, 5.20, 5.90, 5.35, 5.55, 5.05, 5.75, 5.80, 5.50, 6.05, 5.65, 5.30, 5.95, 5.60, 6.15,
            5.85, 6.20, 5.60, 5.95, 6.35, 5.70, 6.05, 5.50, 6.00, 5.65, 6.30, 5.85, 5.45, 6.10, 5.75, 6.40,
            5.90, 6.25, 5.70, 6.05, 5.55, 6.15, 5.80, 6.45, 6.10, 5.75, 6.35, 5.95, 6.55, 5.65, 6.20, 5.85,
            6.30, 5.90, 6.60, 6.05, 6.80, 5.80, 6.40, 6.15, 6.25, 6.85, 5.95, 6.50, 6.10, 6.70, 5.85, 6.35]
rms_2012b = [6.10, 6.35, 5.90, 6.20, 6.50, 6.00, 6.30, 5.85, 5.95, 5.75, 6.05, 5.80, 5.65, 5.90, 6.10, 5.70,
             5.60, 5.45, 5.70, 5.40, 5.55, 5.65, 5.35, 5.50, 5.45, 5.30, 5.55, 5.25, 5.50, 5.35, 5.60, 5.40,
             5.55, 5.40, 5.65, 5.50, 5.75, 5.45, 5.60, 5.70, 5.70, 5.85, 5.60, 5.80, 5.65, 5.90, 5.75, 5.55,
             5.90, 5.75, 6.00, 5.85, 6.10, 5.80, 5.95, 6.05, 5.95, 6.10, 5.85, 6.00, 5.80, 6.15, 5.90, 6.05,
             6.00, 5.85, 6.10, 5.95, 6.20, 5.90, 6.05, 5.80, 6.05, 5.90, 6.15, 6.00, 6.25, 5.95, 6.10, 6.30,
             6.15, 6.40, 6.05, 6.30, 6.50, 6.10, 6.25, 6.45, 6.20, 6.05, 6.35, 6.15, 6.45, 6.00, 6.30, 6.10]
rms_2013 = [6.20, 5.75, 6.45, 5.95, 6.10, 5.60, 6.30, 5.85, 5.90, 5.50, 6.15, 5.70, 6.35, 5.45, 6.00, 5.80,
            5.65, 5.00, 5.95, 5.40, 6.20, 5.75, 5.30, 6.05, 5.85, 6.25, 5.55, 5.95, 5.35, 6.10, 5.70, 6.30,
            6.00, 5.60, 6.35, 5.80, 5.45, 6.15, 5.90, 5.65, 5.75, 6.20, 5.50, 6.05, 5.85, 5.35, 6.25, 5.95,
            6.10, 5.70, 6.40, 5.90, 5.55, 6.00, 5.80, 6.30, 5.85, 6.15, 5.60, 6.35, 5.95, 5.40, 6.05, 5.75,
            6.05, 5.65, 6.25, 5.90, 6.45, 5.70, 6.00, 5.50, 5.95, 6.30, 5.75, 6.10, 5.60, 6.40, 5.85, 6.20,
            6.15, 6.55, 5.90, 6.35, 6.80, 6.05, 6.50, 5.85, 6.40, 6.95, 6.20, 6.70, 5.95, 7.05, 6.30, 6.60]
rms_2013b = [6.05, 5.90, 6.15, 5.85, 6.00, 6.20, 5.95, 6.10, 5.95, 5.80, 6.05, 5.75, 5.90, 6.10, 5.85, 6.00,
             5.85, 5.70, 5.95, 5.65, 5.80, 6.00, 5.75, 5.90, 5.90, 5.75, 6.00, 5.80, 6.10, 5.70, 5.95, 5.85,
             5.85, 6.00, 5.75, 5.95, 5.70, 6.05, 5.80, 5.90, 5.95, 5.80, 6.05, 5.85, 5.70, 6.00, 5.90, 6.10,
             5.90, 6.05, 5.80, 6.00, 5.75, 6.10, 5.85, 5.95, 6.00, 5.85, 6.10, 5.90, 5.80, 6.05, 5.95, 6.15,
             5.95, 6.10, 5.85, 6.05, 5.90, 6.15, 5.80, 6.00, 6.05, 5.90, 6.15, 6.00, 5.85, 6.10, 5.95, 6.20,
             6.10, 6.30, 6.00, 6.25, 6.45, 6.15, 6.35, 6.05, 6.25, 6.50, 6.15, 6.40, 6.65, 6.30, 6.55, 6.20]
rms_2014 = [6.85, 7.18, 6.50, 6.95, 6.25, 7.05, 6.60, 6.40, 6.70, 6.20, 6.90, 6.45, 7.00, 6.05, 6.65, 6.35,
            6.30, 6.55, 5.95, 6.75, 6.15, 6.45, 5.85, 6.60, 6.10, 5.70, 6.35, 5.90, 6.20, 5.55, 6.05, 6.40,
            5.80, 6.25, 5.60, 6.05, 5.35, 6.15, 5.90, 6.30, 6.00, 5.65, 6.30, 5.85, 6.45, 5.50, 6.10, 5.75,
            6.20, 5.90, 5.45, 6.35, 6.00, 5.70, 6.50, 5.95, 5.85, 6.25, 6.05, 5.60, 6.40, 5.80, 6.15, 5.40,
            6.05, 5.75, 6.35, 5.95, 6.55, 5.65, 6.20, 5.90, 6.30, 5.85, 6.10, 6.60, 5.75, 6.25, 6.45, 5.95,
            6.15, 6.65, 5.90, 6.40, 6.85, 6.05, 6.55, 5.80, 6.35, 6.93, 6.10, 6.70, 6.25, 6.90, 5.85, 6.50]
rms_2014b = [6.55, 6.75, 6.35, 6.65, 6.90, 6.45, 6.70, 6.30, 6.40, 6.60, 6.25, 6.50, 6.75, 6.35, 6.55, 6.20,
             6.25, 6.40, 6.10, 6.35, 6.50, 6.05, 6.30, 6.20, 6.15, 6.00, 6.25, 5.90, 6.10, 6.30, 5.95, 6.05,
             6.00, 5.85, 6.10, 5.80, 6.05, 6.20, 5.90, 6.00, 5.95, 6.10, 5.85, 6.05, 5.75, 6.00, 6.15, 5.90,
             6.00, 5.85, 6.10, 5.95, 6.20, 5.80, 6.05, 5.90, 6.05, 5.90, 6.15, 5.95, 5.75, 6.10, 6.00, 6.20,
             6.00, 6.15, 5.90, 6.10, 5.85, 6.20, 6.05, 5.95, 6.10, 5.95, 6.20, 6.05, 6.30, 5.90, 6.15, 6.00,
             6.15, 6.35, 6.05, 6.30, 6.50, 6.10, 6.40, 6.20, 6.25, 6.55, 6.15, 6.45, 6.30, 6.65, 6.10, 6.40]

series_a = [rms_1994, rms_1995, rms_1996, rms_1997, rms_1998, rms_1999, rms_2000,
            rms_2001, rms_2002, rms_2003, rms_2004, rms_2005, rms_2006, rms_2007,
            rms_2008, rms_2009, rms_2010, rms_2011, rms_2012, rms_2013, rms_2014]
series_b = [rms_1994b, rms_1995b, rms_1996b, rms_1997b, rms_1998b, rms_1999b, rms_2000b,
            rms_2001b, rms_2002b, rms_2003b, rms_2004b, rms_2005b, rms_2006b, rms_2007b,
            rms_2008b, rms_2009b, rms_2010b, rms_2011b, rms_2012b, rms_2013b, rms_2014b]

y_ticks = [3, 4, 5, 6, 7, 8, 9, 10]
x_label_years = [1994, 1996, 1998, 2000, 2002, 2004, 2006, 2008, 2010, 2012, 2014]
mjd_major = list(range(49500, 57001, 300))   # top frame ticks (MJD)
mjd_minor = list(range(49400, 57001, 100))

# decimal-year sample times: the two sets interleave, regular sampling in each year
t, v = [], []
for yr, va, vb in zip(years, series_a, series_b):
    vals = []
    for a, b in zip(va, vb):
        vals.extend([a, b])
    n = len(vals)
    for i, val in enumerate(vals):
        t.append(yr + (i + 0.5) / n)
        v.append(val)
source = ColumnDataSource(data=dict(t=t, rms=v))


def mjd_to_year(m):
    return 2000.0 + (m - 51544.0) / 365.25


FONT = "Liberation Sans"

p = figure(width=1292, height=671,
           x_range=Range1d(1994, 2015), y_range=Range1d(3, 10),
           x_axis_location=None, y_axis_location=None,
           output_backend="svg", toolbar_location=None,
           min_border_left=79, min_border_right=5,
           min_border_top=14, min_border_bottom=51)
p.xgrid.visible = False
p.ygrid.visible = False
p.outline_line_color = "black"
p.outline_line_width = 3
p.background_fill_color = "white"
p.border_fill_color = "white"

p.scatter("t", "rms", source=source, size=9, fill_color="#ff0000",
          line_color=None, marker="circle")

# left axis
yl = LinearAxis(ticker=FixedTicker(ticks=y_ticks, minor_ticks=[]))
yl.axis_label = "RMS from Helmert [mm]"
yl.axis_label_text_font = FONT
yl.axis_label_text_font_size = "27px"
yl.axis_label_text_font_style = "normal"
yl.axis_label_text_color = "#111111"
yl.axis_label_standoff = 10
yl.major_label_text_font = FONT
yl.major_label_text_font_size = "16px"
yl.major_label_text_color = "#111111"
yl.major_label_standoff = 5
yl.major_tick_out = 6
yl.major_tick_in = 0
yl.major_tick_line_color = "#222222"
yl.axis_line_width = 3
yl.axis_line_color = "black"
p.add_layout(yl, "left")

# right axis (ticks only)
yr_ax = LinearAxis(ticker=FixedTicker(ticks=y_ticks, minor_ticks=[]))
yr_ax.major_label_text_font_size = "0px"
yr_ax.major_label_text_color = None
yr_ax.major_label_standoff = 0
yr_ax.major_tick_out = 4
yr_ax.major_tick_in = 0
yr_ax.axis_line_width = 3
yr_ax.axis_line_color = "black"
p.add_layout(yr_ax, "right")

# top axis: MJD tick marks
xt = LinearAxis(ticker=FixedTicker(ticks=[mjd_to_year(m) for m in mjd_major],
                                   minor_ticks=[mjd_to_year(m) for m in mjd_minor]))
xt.major_label_text_font_size = "0px"
xt.major_label_text_color = None
xt.major_label_standoff = 0
xt.major_tick_out = 7
xt.major_tick_in = 0
xt.minor_tick_out = 3
xt.minor_tick_in = 0
xt.major_tick_line_width = 1.5
xt.axis_line_width = 3
xt.axis_line_color = "black"
p.add_layout(xt, "above")

# bottom axis: long tick marks at even years
xb = LinearAxis(ticker=FixedTicker(ticks=x_label_years, minor_ticks=[]))
xb.major_label_text_font_size = "0px"
xb.major_label_text_color = None
xb.major_label_standoff = 0
xb.major_tick_out = 28
xb.major_tick_in = 0
xb.major_tick_line_color = "#333333"
xb.major_tick_line_width = 1.5
xb.axis_line_width = 3
xb.axis_line_color = "black"
p.add_layout(xb, "below")

# bottom labels, written just to the right of each tick
shift = 0.50
xlab = LinearAxis(ticker=FixedTicker(ticks=[y + shift for y in x_label_years], minor_ticks=[]),
                  formatter=CustomJSTickFormatter(code="return Math.round(tick - %s).toString();" % shift))
xlab.axis_line_color = None
xlab.major_tick_line_color = None
xlab.major_tick_out = 0
xlab.major_tick_in = 0
xlab.major_label_standoff = -3
xlab.major_label_text_font = FONT
xlab.major_label_text_font_size = "26px"
xlab.major_label_text_color = "#111111"
p.add_layout(xlab, "below")

open("out.html", "w").write(file_html(p, INLINE))
